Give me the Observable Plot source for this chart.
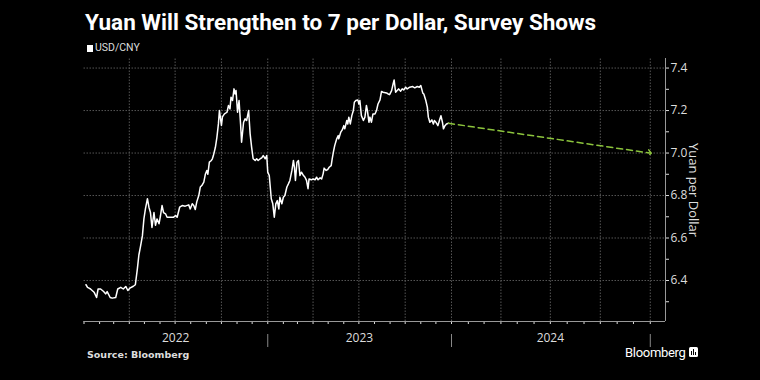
<!DOCTYPE html>
<html>
<head>
<meta charset="utf-8">
<script src="https://cdn.jsdelivr.net/npm/d3@7"></script>
<script src="https://cdn.jsdelivr.net/npm/@observablehq/plot@0.6"></script>
<style>
  html, body { margin: 0; padding: 0; background: #000; }
  #wrap { position: relative; width: 760px; height: 380px; background: #000; overflow: hidden; }
  #title { position: absolute; left: 85px; top: 9px; color: #fff; font: 700 22.5px "Roboto", "Liberation Sans", sans-serif; white-space: nowrap; }
  #legend { position: absolute; left: 87px; top: 41px; color: #ddd; font: 10.5px "Liberation Sans Narrow", "Roboto", sans-serif; white-space: nowrap; }
  #legend .sw { display: inline-block; width: 6px; height: 7px; background: #fff; margin-right: 2px; vertical-align: -1px; }
  #chart { position: absolute; left: 0; top: 52px; }
  #source { position: absolute; left: 87px; top: 349px; color: #ddd; font: 700 9.5px "DejaVu Sans", sans-serif; white-space: nowrap; }
  #brand { position: absolute; left: 625px; top: 345px; color: #fff; font: 13px "Roboto", sans-serif; white-space: nowrap; letter-spacing: -0.3px; }
  #brand svg { vertical-align: -1px; margin-left: 3px; }
</style>
</head>
<body>
<div id="wrap">
  <div id="title">Yuan Will Strengthen to 7 per Dollar, Survey Shows</div>
  <div id="legend"><span class="sw"></span>USD/CNY</div>
  <div id="chart"></div>
  <div id="source">Source: Bloomberg</div>
  <div id="brand">Bloomberg<svg width="9" height="11" viewBox="0 0 9 11"><rect x="0" y="0" width="9" height="10" rx="1.5" fill="#fff"/><rect x="2" y="4" width="1" height="4" fill="#000"/><rect x="4" y="2" width="1" height="6" fill="#000"/><rect x="6" y="5" width="1" height="3" fill="#000"/></svg></div>
</div>
<script>
// USD/CNY history
const usdDates = [
  "2022-01-05","2022-01-08","2022-01-11","2022-01-14","2022-01-21","2022-01-26","2022-01-29","2022-02-03",
  "2022-02-09","2022-02-13","2022-02-16","2022-02-22","2022-02-26","2022-03-05","2022-03-09","2022-03-15",
  "2022-03-20","2022-03-25","2022-03-29","2022-04-02","2022-04-09","2022-04-13","2022-04-17","2022-04-20",
  "2022-04-23","2022-04-27","2022-04-30","2022-05-03","2022-05-07","2022-05-10","2022-05-13","2022-05-16",
  "2022-05-20","2022-05-23","2022-05-26","2022-05-30","2022-06-02","2022-06-05","2022-06-08","2022-06-12",
  "2022-06-15","2022-06-22","2022-06-28","2022-07-02","2022-07-05","2022-07-10","2022-07-15","2022-07-21",
  "2022-07-28","2022-07-31","2022-08-04","2022-08-07","2022-08-10","2022-08-13","2022-08-17","2022-08-20",
  "2022-08-23","2022-08-27","2022-08-30","2022-09-02","2022-09-04","2022-09-07","2022-09-11","2022-09-13",
  "2022-09-15","2022-09-19","2022-09-22","2022-09-25","2022-09-27","2022-10-01","2022-10-03","2022-10-07",
  "2022-10-12","2022-10-15","2022-10-18","2022-10-20","2022-10-23","2022-10-26","2022-10-28","2022-10-30",
  "2022-11-02","2022-11-05","2022-11-08","2022-11-10","2022-11-14","2022-11-17","2022-11-20","2022-11-24",
  "2022-11-27","2022-11-30","2022-12-03","2022-12-07","2022-12-10","2022-12-13","2022-12-17","2022-12-20",
  "2022-12-23","2022-12-27","2022-12-30",
  "2023-01-01","2023-01-04","2023-01-06","2023-01-08","2023-01-11","2023-01-14","2023-01-17","2023-01-20",
  "2023-01-23","2023-01-25","2023-01-29","2023-02-01","2023-02-04","2023-02-08","2023-02-11","2023-02-14",
  "2023-02-18","2023-02-21","2023-02-23","2023-02-25","2023-02-28","2023-03-03","2023-03-06","2023-03-09",
  "2023-03-13","2023-03-16","2023-03-19","2023-03-22","2023-03-24","2023-03-29","2023-04-01","2023-04-05",
  "2023-04-08","2023-04-11","2023-04-15","2023-04-18","2023-04-21","2023-04-23","2023-04-27","2023-04-30",
  "2023-05-03","2023-05-07","2023-05-09","2023-05-12","2023-05-14","2023-05-18","2023-05-21","2023-05-22",
  "2023-05-26","2023-05-29","2023-06-01","2023-06-03","2023-06-07","2023-06-09","2023-06-11","2023-06-14",
  "2023-06-17","2023-06-20","2023-06-22","2023-06-25","2023-06-29","2023-07-01","2023-07-03","2023-07-06",
  "2023-07-10","2023-07-13","2023-07-16","2023-07-18","2023-07-21","2023-07-23","2023-07-26","2023-07-29",
  "2023-08-02","2023-08-05","2023-08-08","2023-08-12","2023-08-15","2023-08-18","2023-08-25","2023-08-28",
  "2023-08-31","2023-09-04","2023-09-07","2023-09-09","2023-09-12","2023-09-15","2023-09-18","2023-09-22",
  "2023-09-25","2023-09-28","2023-10-02","2023-10-05","2023-10-10","2023-10-16","2023-10-20","2023-10-25",
  "2023-10-29","2023-11-01","2023-11-05","2023-11-07","2023-11-11","2023-11-14","2023-11-16","2023-11-19",
  "2023-11-23","2023-11-26","2023-11-28","2023-12-01","2023-12-05","2023-12-08","2023-12-11","2023-12-14",
  "2023-12-16","2023-12-19","2023-12-22","2023-12-26"
];
const usdValues = [
  6.380,6.368,6.364,6.360,6.345,6.320,6.360,6.360,
  6.348,6.337,6.348,6.320,6.317,6.320,6.360,6.368,
  6.360,6.372,6.353,6.364,6.373,6.380,6.455,6.520,
  6.557,6.610,6.690,6.737,6.785,6.745,6.720,6.650,
  6.720,6.660,6.690,6.667,6.706,6.753,6.720,6.714,
  6.698,6.698,6.698,6.706,6.698,6.745,6.753,6.750,
  6.756,6.737,6.761,6.753,6.734,6.770,6.800,6.840,
  6.847,6.863,6.900,6.918,6.900,6.957,6.965,6.973,
  6.988,7.027,7.074,7.137,7.200,7.130,7.170,7.184,
  7.192,7.224,7.208,7.263,7.247,7.302,7.278,7.294,
  7.192,7.247,7.137,7.051,7.145,7.161,7.153,7.200,
  7.090,7.027,6.973,6.965,6.973,6.965,6.973,6.977,
  6.988,6.973,6.988,
  6.910,6.894,6.840,6.785,6.761,6.698,6.761,6.776,
  6.737,6.792,6.761,6.792,6.800,6.840,6.855,6.871,
  6.918,6.965,6.933,6.871,6.957,6.965,6.894,6.910,
  6.894,6.886,6.871,6.832,6.878,6.874,6.878,6.874,
  6.886,6.874,6.883,6.878,6.902,6.929,6.918,6.922,
  6.933,6.941,6.973,7.012,7.035,7.067,7.082,7.067,
  7.098,7.109,7.129,7.114,7.153,7.137,7.169,7.137,
  7.176,7.200,7.239,7.247,7.250,7.231,7.247,7.176,
  7.153,7.169,7.224,7.200,7.145,7.169,7.145,7.184,
  7.184,7.200,7.231,7.250,7.290,7.286,7.283,7.278,
  7.275,7.294,7.325,7.344,7.286,7.294,7.302,7.291,
  7.302,7.297,7.310,7.302,7.310,7.313,7.307,7.313,
  7.310,7.318,7.282,7.278,7.247,7.216,7.169,7.145,
  7.156,7.137,7.153,7.145,7.129,7.153,7.176,7.145,
  7.114,7.129,7.137,7.140
];
// Survey forecast: 7 per dollar by end of 2024
const forecastDates = ["2023-12-26", "2024-12-31"];
const forecastValues = [7.14, 7.0];

// Axis tick labels
const yMajor = [6.4, 6.6, 6.8, 7.0, 7.2, 7.4];
const yMinor = [6.3, 6.5, 6.7, 6.9, 7.1, 7.3];
const yearLabels = ["2022", "2023", "2024"];
const yearMids = ["2022-07-02", "2023-07-02", "2024-07-01"];
const yearBounds = ["2023-01-01", "2024-01-01", "2025-01-01"];
const quarterStarts = [
  "2022-04-01","2022-07-01","2022-10-01","2023-01-01","2023-04-01","2023-07-01","2023-10-01",
  "2024-01-01","2024-04-01","2024-07-01","2024-10-01","2025-01-01"
];

const D = s => new Date(s + "T00:00:00Z");
const series = usdDates.map((d, i) => ({date: D(d), value: usdValues[i]}));
const forecast = forecastDates.map((d, i) => ({date: D(d), value: forecastValues[i]}));
const monthTicks = d3.utcMonths(D("2022-01-01"), D("2025-01-02"));

const xStart = D("2022-01-01"), xBreak = D("2024-01-01"), xEnd = D("2025-01-29");
const yMin = 6.207, yMax = 7.445;
const grid = {stroke: "#555", strokeDasharray: "1.5,1.5", strokeWidth: 1};

const chart = Plot.plot({
  width: 760,
  height: 296,
  marginLeft: 83.5, marginRight: 95, marginTop: 6, marginBottom: 27,
  style: {background: "transparent", color: "#ddd", fontFamily: "'Open Sans', sans-serif", fontSize: "12px", overflow: "visible"},
  x: {type: "utc", domain: [xStart, xBreak, xEnd], range: [83.5, 451, 665],
      ticks: monthTicks, tickFormat: () => "", tickSize: 3, label: null},
  y: {domain: [yMin, yMax], axis: "right", ticks: [...yMajor, ...yMinor],
      tickFormat: d => yMajor.includes(d) ? d.toFixed(1) : "", tickSize: 3, tickPadding: 2, label: null},
  marks: [
    Plot.ruleY(yMajor, {y: d => d, x1: xStart, x2: xEnd, ...grid}),
    Plot.ruleX(quarterStarts.map(D), {x: d => d, y1: yMin, y2: yMax, ...grid}),
    Plot.ruleX([xEnd], {y1: yMin, y2: yMax, stroke: "#999"}),
    Plot.ruleY([yMin], {x1: xStart, x2: xEnd, stroke: "#999"}),
    Plot.ruleX(yearBounds.map(D), {x: d => d, y1: yMin, y2: yMin, insetTop: 13, insetBottom: -26, stroke: "#888"}),
    Plot.text(yearLabels, {x: (d, i) => D(yearMids[i]), frameAnchor: "bottom", dy: 20, text: d => d, fill: "#ddd", fontSize: 12}),
    Plot.text(["Yuan per Dollar"], {x: xEnd, frameAnchor: "middle", rotate: 90, dx: 28, text: d => d, fill: "#ddd", fontSize: 13}),
    Plot.line(series, {x: "date", y: "value", stroke: "#fff", strokeWidth: 1.5}),
    Plot.line(forecast, {x: "date", y: "value", stroke: "#8cc43c", strokeWidth: 1.5, strokeDasharray: "6,4", markerEnd: "arrow"})
  ]
});
document.getElementById("chart").appendChild(chart);
</script>
</body>
</html>
